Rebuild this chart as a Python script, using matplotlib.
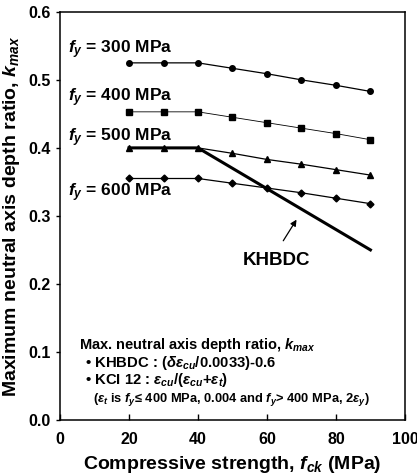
import numpy as np
import matplotlib
matplotlib.use('Agg')
import matplotlib.pyplot as plt

plt.rcParams['font.family'] = ['Liberation Sans', 'DejaVu Sans']
plt.rcParams['font.weight'] = 'bold'
plt.rcParams['mathtext.fontset'] = 'custom'
plt.rcParams['mathtext.rm'] = 'Liberation Sans:bold'
plt.rcParams['mathtext.it'] = 'Liberation Sans:italic:bold'
plt.rcParams['mathtext.bf'] = 'Liberation Sans:bold'

#Data
fck = [20, 30, 40, 50, 60, 70, 80, 90]
k_300 = [0.525, 0.525, 0.525, 0.517, 0.509, 0.500, 0.492, 0.483]
k_400 = [0.453, 0.453, 0.453, 0.445, 0.437, 0.429, 0.421, 0.412]
k_500 = [0.400, 0.400, 0.400, 0.392, 0.383, 0.376, 0.368, 0.360]
k_600 = [0.355, 0.355, 0.355, 0.348, 0.341, 0.334, 0.326, 0.318]
fck_khbdc = [20, 30, 40, 50, 60, 70, 80, 90]
k_khbdc = [0.400, 0.400, 0.400, 0.370, 0.340, 0.310, 0.280, 0.250]

#Plot
f = plt.figure(figsize=(4.17, 4.74), dpi=100)
ax = f.add_axes([0.144, 0.114, 0.827, 0.861])

ax.plot(fck, k_300, '-o', color='black', lw=0.9, ms=4)
ax.plot(fck, k_400, '-s', color='black', lw=0.6, ms=4, mfc='black')
ax.plot(fck, k_500, '-^', color='black', lw=0.9, ms=4.5)
ax.plot(fck, k_600, '-D', color='black', lw=0.9, ms=3.5)
ax.plot(fck_khbdc, k_khbdc, '-', color='black', lw=2.2)

ax.set_xlim(0, 100)
ax.set_ylim(0, 0.6)
ax.set_xticks([0, 20, 40, 60, 80, 100])
ax.set_yticks(np.arange(0, 0.61, 0.1))
ax.set_yticklabels(['0.0', '0.1', '0.2', '0.3', '0.4', '0.5', '0.6'])
ax.tick_params(axis='x', direction='in', length=4, labelsize=11.5, pad=9, width=1)
ax.tick_params(axis='y', direction='out', length=3, labelsize=11.5, pad=4, width=1)
for lbl in ax.get_xticklabels() + ax.get_yticklabels():
    lbl.set_fontweight('bold')
for s in ax.spines.values():
    s.set_linewidth(1.1)

ax.set_xlabel(r'Compressive strength, $f_{ck}$ (MPa)', fontsize=14, fontweight='bold', labelpad=5)
ax.set_ylabel(r'Maximum neutral axis depth ratio, $k_{max}$', fontsize=14, fontweight='bold', labelpad=4)

fs = 12.5
ax.text(2.3, 0.539, r'$f_y$ = 300 MPa', fontsize=fs, fontweight='bold', va='baseline')
ax.text(2.3, 0.468, r'$f_y$ = 400 MPa', fontsize=fs, fontweight='bold', va='baseline')
ax.text(2.3, 0.409, r'$f_y$ = 500 MPa', fontsize=fs, fontweight='bold', va='baseline')
ax.text(2.3, 0.329, r'$f_y$ = 600 MPa', fontsize=fs, fontweight='bold', va='baseline')

ax.text(62.9, 0.228, 'KHBDC', fontsize=13.5, fontweight='bold', ha='center', va='baseline')
ax.annotate('', xy=(69.0, 0.298), xytext=(64.3, 0.260),
            arrowprops=dict(arrowstyle='-|>', color='black', lw=0.9, mutation_scale=9))

ax.text(5.5, 0.104, r'Max. neutral axis depth ratio, $k_{max}$', fontsize=10.5, fontweight='bold', va='baseline')
ax.text(7.3, 0.078, '\u2022 KHBDC : (' + r'$\delta\varepsilon_{cu}$' + '/0.0033)-0.6', fontsize=10.7, fontweight='bold', va='baseline')
ax.text(7.3, 0.053, '\u2022 KCI 12 : ' + r'$\varepsilon_{cu}$/($\varepsilon_{cu}$+$\varepsilon_t$)', fontsize=10.7, fontweight='bold', va='baseline')
ax.text(9.6, 0.027, r'($\varepsilon_t$ is $f_y$' + '\u2264 400 MPa, 0.004 and ' + r'$f_y$' + '> 400 MPa, 2' + r'$\varepsilon_y$)',
        fontsize=9.3, fontweight='bold', va='baseline')

plt.savefig('out.png', dpi=100)
